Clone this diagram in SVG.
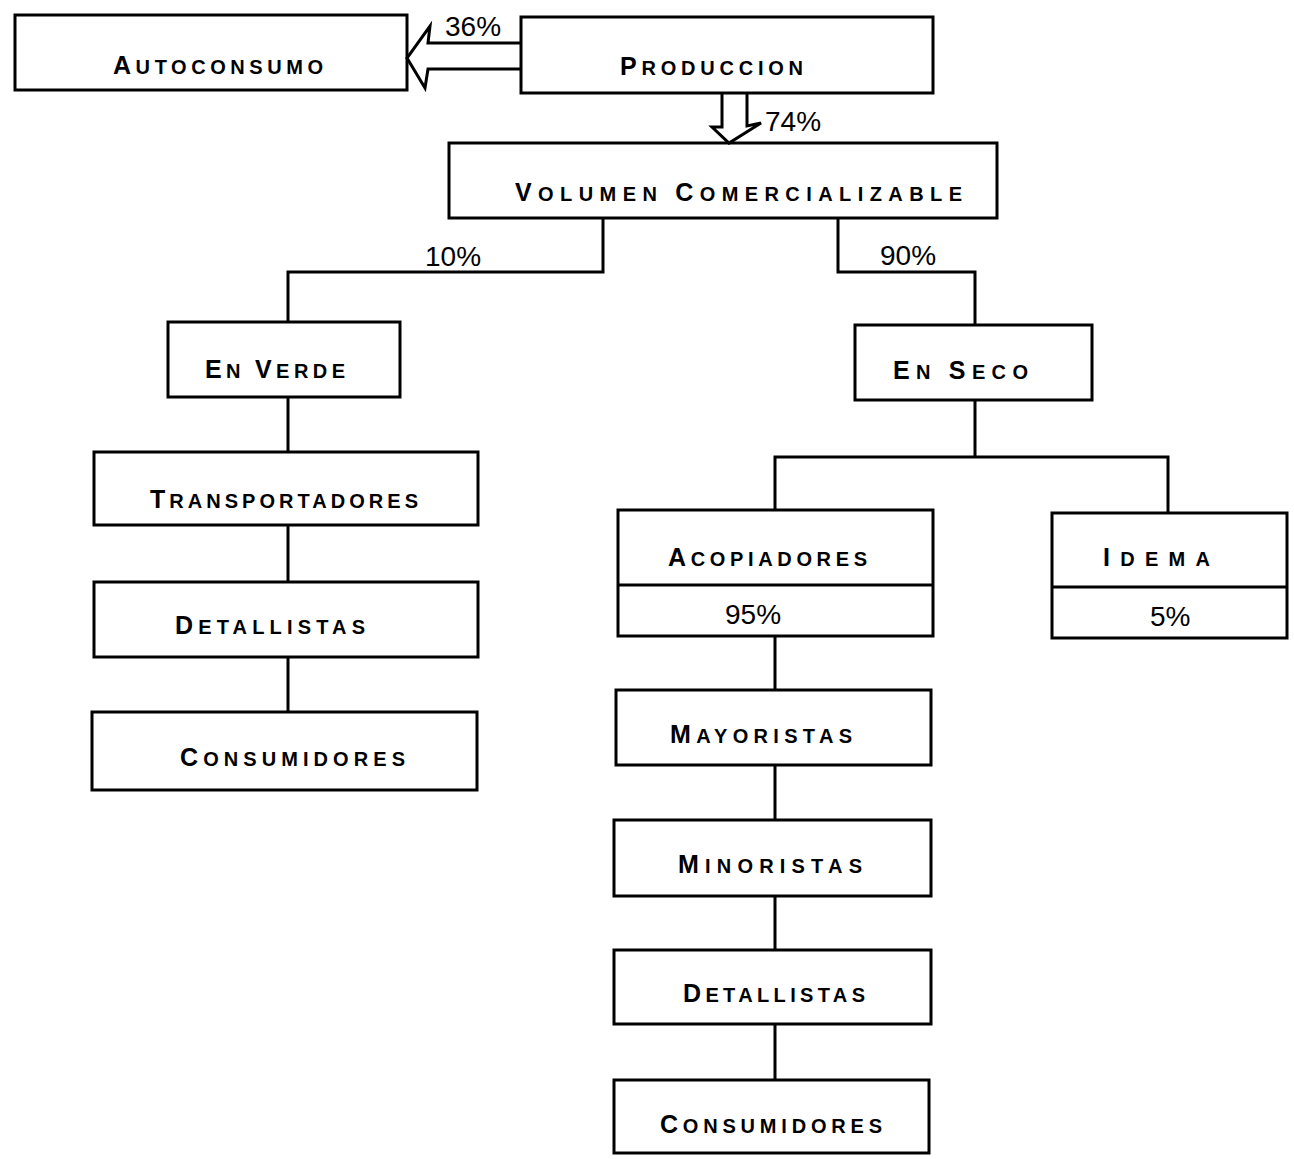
<svg xmlns="http://www.w3.org/2000/svg" width="1294" height="1159" viewBox="0 0 1294 1159">
<style>
.box{fill:none;stroke:#000;stroke-width:3}
.ln{fill:none;stroke:#000;stroke-width:3;stroke-linejoin:miter}
.t{font-family:"Liberation Sans",Arial,sans-serif;font-size:20px;fill:#000;font-weight:bold}
.b{font-size:25px}
.p{font-family:"Liberation Sans",Arial,sans-serif;font-size:28px;fill:#000}
</style>
<rect width="1294" height="1159" fill="#fff"/>
<g id="connectors">
<path class="ln" d="M521,43 L428,43 L430,26 L407,58 L425,88 L428,69 L521,69"/>
<path class="ln" d="M722,93 L722,127 L712,127 L729,143 L761,123 L747,126 L747,93"/>
<path class="ln" d="M603,218 V272 H288 V322"/>
<path class="ln" d="M838,218 V272 H975 V325"/>
<path class="ln" d="M288,397 V452 M288,525 V582 M288,657 V712"/>
<path class="ln" d="M975,400 V457 M775,510 V457 H1168 V513"/>
<path class="ln" d="M775,636 V690 M775,765 V820 M775,896 V950 M775,1024 V1080"/>
<text class="p" x="445" y="36">36%</text>
<text class="p" x="765" y="131">74%</text>
<text class="p" x="425" y="266">10%</text>
<text class="p" x="880" y="265">90%</text>
</g>
<g id="autoconsumo"><rect class="box" x="15" y="15" width="392" height="75"/><text class="t" x="113" y="74" textLength="210" lengthAdjust="spacing"><tspan class="b">A</tspan>UTOCONSUMO</text></g>
<g id="produccion"><rect class="box" x="521" y="17" width="412" height="76"/><text class="t" x="620" y="75" textLength="183" lengthAdjust="spacing"><tspan class="b">P</tspan>RODUCCION</text></g>
<g id="volumen"><rect class="box" x="449" y="143" width="548" height="75"/><text class="t" x="515" y="201" textLength="447" lengthAdjust="spacing"><tspan class="b">V</tspan>OLUMEN  <tspan class="b">C</tspan>OMERCIALIZABLE</text></g>
<g id="enverde"><rect class="box" x="168" y="322" width="232" height="75"/><text class="t" x="205" y="378" textLength="140" lengthAdjust="spacing"><tspan class="b">E</tspan>N <tspan class="b">V</tspan>ERDE</text></g>
<g id="enseco"><rect class="box" x="855" y="325" width="237" height="75"/><text class="t" x="893" y="379" textLength="135" lengthAdjust="spacing"><tspan class="b">E</tspan>N <tspan class="b">S</tspan>ECO</text></g>
<g id="transportadores"><rect class="box" x="94" y="452" width="384" height="73"/><text class="t" x="150" y="508" textLength="268" lengthAdjust="spacing"><tspan class="b">T</tspan>RANSPORTADORES</text></g>
<g id="detallistas1"><rect class="box" x="94" y="582" width="384" height="75"/><text class="t" x="175" y="634" textLength="190" lengthAdjust="spacing"><tspan class="b">D</tspan>ETALLISTAS</text></g>
<g id="consumidores1"><rect class="box" x="92" y="712" width="385" height="78"/><text class="t" x="180" y="766" textLength="225" lengthAdjust="spacing"><tspan class="b">C</tspan>ONSUMIDORES</text></g>
<g id="acopiadores"><rect class="box" x="618" y="510" width="315" height="126"/><line class="ln" x1="618" y1="585" x2="933" y2="585"/><text class="t" x="668" y="566" textLength="199" lengthAdjust="spacing"><tspan class="b">A</tspan>COPIADORES</text><text class="p" x="725" y="624">95%</text></g>
<g id="idema"><rect class="box" x="1052" y="513" width="235" height="125"/><line class="ln" x1="1052" y1="587" x2="1287" y2="587"/><text class="t" x="1103" y="566" textLength="107" lengthAdjust="spacing"><tspan class="b">I</tspan>DEMA</text><text class="p" x="1150" y="626">5%</text></g>
<g id="mayoristas"><rect class="box" x="616" y="690" width="315" height="75"/><text class="t" x="670" y="743" textLength="182" lengthAdjust="spacing"><tspan class="b">M</tspan>AYORISTAS</text></g>
<g id="minoristas"><rect class="box" x="614" y="820" width="317" height="76"/><text class="t" x="678" y="873" textLength="184" lengthAdjust="spacing"><tspan class="b">M</tspan>INORISTAS</text></g>
<g id="detallistas2"><rect class="box" x="614" y="950" width="317" height="74"/><text class="t" x="683" y="1002" textLength="182" lengthAdjust="spacing"><tspan class="b">D</tspan>ETALLISTAS</text></g>
<g id="consumidores2"><rect class="box" x="614" y="1080" width="315" height="73"/><text class="t" x="660" y="1133" textLength="222" lengthAdjust="spacing"><tspan class="b">C</tspan>ONSUMIDORES</text></g>
</svg>
